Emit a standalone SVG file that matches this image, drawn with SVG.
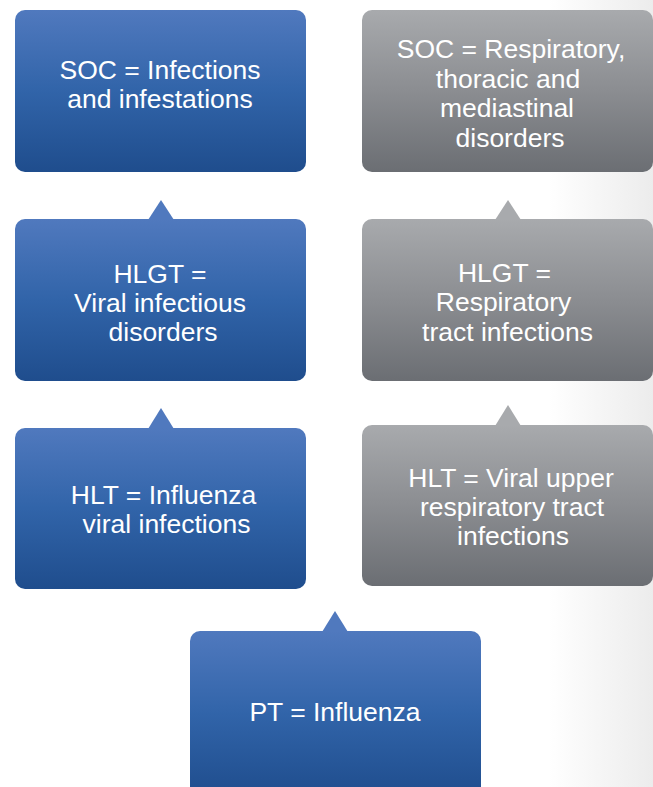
<svg xmlns="http://www.w3.org/2000/svg" width="653" height="787" viewBox="0 0 653 787">
  <defs>
    <linearGradient id="bg" x1="0" y1="0" x2="1" y2="0">
      <stop offset="0" stop-color="#ffffff"/>
      <stop offset="0.84" stop-color="#ffffff"/>
      <stop offset="1" stop-color="#ececec"/>
    </linearGradient>
    <linearGradient id="blue" x1="0" y1="0" x2="0" y2="1">
      <stop offset="0" stop-color="#5079be"/>
      <stop offset="0.5" stop-color="#3164a9"/>
      <stop offset="1" stop-color="#1f4d8d"/>
    </linearGradient>
    <linearGradient id="gray" x1="0" y1="0" x2="0" y2="1">
      <stop offset="0" stop-color="#a8aaad"/>
      <stop offset="0.5" stop-color="#8b8d91"/>
      <stop offset="1" stop-color="#6b6e73"/>
    </linearGradient>
    <style>
      .b { fill: url(#blue); }
      .g { fill: url(#gray); }
      .tb { fill: #5079be; }
      .tg { fill: #a8aaad; }
      text { fill: #ffffff; font-family: "Liberation Sans", Arial, sans-serif; font-size: 26.5px; text-anchor: middle; }
    </style>
  </defs>
  <rect x="0" y="0" width="653" height="787" fill="url(#bg)"/>

  <g id="connectors">
    <polygon class="tb" points="148,220 161,200 174,220"/>
    <polygon class="tb" points="148,429 161,408 174,429"/>
    <polygon class="tg" points="495,220 508,200 521,220"/>
    <polygon class="tg" points="495,426 508,405 521,426"/>
    <polygon class="tb" points="322,632 335,611 348,632"/>
  </g>

  <g id="soc-infections">
    <rect class="b" x="15" y="10" width="291" height="162" rx="10"/>
    <text x="160" y="79">SOC = Infections</text>
    <text x="160" y="108">and infestations</text>
  </g>

  <g id="soc-respiratory">
    <rect class="g" x="362" y="10" width="291" height="162" rx="10"/>
    <text x="511" y="58">SOC = Respiratory,</text>
    <text x="508" y="88">thoracic and</text>
    <text x="507" y="117">mediastinal</text>
    <text x="510" y="146.5">disorders</text>
  </g>

  <g id="hlgt-viral">
    <rect class="b" x="15" y="219" width="291" height="162" rx="10"/>
    <text x="160" y="282.5">HLGT =</text>
    <text x="160" y="311.5">Viral infectious</text>
    <text x="163" y="340.5">disorders</text>
  </g>

  <g id="hlgt-respiratory">
    <rect class="g" x="362" y="219" width="291" height="162" rx="10"/>
    <text x="504.5" y="282">HLGT =</text>
    <text x="503.5" y="311">Respiratory</text>
    <text x="507.5" y="340.5">tract infections</text>
  </g>

  <g id="hlt-influenza">
    <rect class="b" x="15" y="428" width="291" height="161" rx="10"/>
    <text x="163.5" y="504">HLT = Influenza</text>
    <text x="166.5" y="532.5">viral infections</text>
  </g>

  <g id="hlt-viral-upper">
    <rect class="g" x="362" y="425" width="291" height="161" rx="10"/>
    <text x="511" y="486.5">HLT = Viral upper</text>
    <text x="512" y="516">respiratory tract</text>
    <text x="513" y="544.5">infections</text>
  </g>

  <g id="pt-influenza">
    <rect class="b" x="190" y="631" width="291" height="166" rx="10"/>
    <text x="335" y="721">PT = Influenza</text>
  </g>
</svg>
